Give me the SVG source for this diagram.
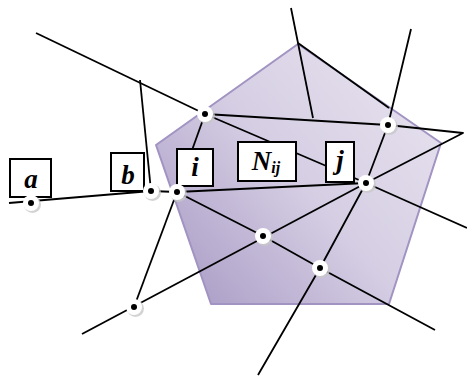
<svg xmlns="http://www.w3.org/2000/svg" width="467" height="376" viewBox="0 0 467 376">
<defs>
<linearGradient id="pg" x1="0" y1="1" x2="1" y2="0.2">
<stop offset="0" stop-color="#a596c2"/>
<stop offset="0.55" stop-color="#d6cfe4"/>
<stop offset="1" stop-color="#e6e1ee"/>
</linearGradient>
<g id="dot">
<circle cx="1.5" cy="1.5" r="8.5" fill="#c8c8c8" opacity="0.8"/>
<circle cx="0" cy="0" r="8" fill="#ffffff"/>
<circle cx="0" cy="0" r="3" fill="#000000"/>
</g>
</defs>
<style>
.ln{stroke:#000;stroke-width:1.8;fill:none;stroke-linejoin:round}
.box{fill:#fff;stroke:#000;stroke-width:2}
.lbl{font-family:"Liberation Serif","Times New Roman",serif;font-weight:bold;font-style:italic;font-size:27px;fill:#000;text-anchor:middle}
</style>
<rect width="467" height="376" fill="#fff"/>
<g id="pentagon">
<polygon points="298,44 441,143 389,304 211,304 156,145" fill="url(#pg)" stroke="#a193c2" stroke-width="2" stroke-linejoin="round"/>
</g>
<g id="connectors">
<line class="ln" x1="36" y1="33" x2="205" y2="114"/>
<line class="ln" x1="140" y1="80" x2="151" y2="191"/>
<line class="ln" x1="9" y1="203" x2="151" y2="191"/>
<line class="ln" x1="151" y1="191" x2="177" y2="192"/>
<line class="ln" x1="177" y1="192" x2="366" y2="183"/>
<line class="ln" x1="205" y1="114" x2="177" y2="192"/>
<polyline class="ln" points="205,114 388,125 463,133 366,183"/>
<line class="ln" x1="205" y1="114" x2="366" y2="183"/>
<line class="ln" x1="291" y1="8" x2="313" y2="118"/>
<line class="ln" x1="298" y1="43" x2="389" y2="108"/>
<polyline class="ln" points="411,29 388,125 366,183 320,268 258,375"/>
<line class="ln" x1="366" y1="183" x2="467" y2="228"/>
<line class="ln" x1="366" y1="183" x2="82" y2="334"/>
<polyline class="ln" points="177,192 263,236 320,268 435,330"/>
<line class="ln" x1="177" y1="192" x2="134" y2="307"/>
</g>
<g id="node-a"><rect class="box" x="10" y="159" width="41" height="38"/><text class="lbl" x="31" y="188">a</text></g>
<g id="node-b"><rect class="box" x="111" y="153" width="33" height="38"/><text class="lbl" x="128" y="184">b</text></g>
<g id="node-i"><rect class="box" x="177" y="149" width="36" height="37"/><text class="lbl" x="195" y="176">i</text></g>
<g id="node-Nij"><rect class="box" x="238" y="142" width="58" height="39"/><text class="lbl" x="266" y="170">N<tspan font-size="16" dy="3">ij</tspan></text></g>
<g id="node-j"><rect class="box" x="326" y="142" width="28" height="40"/><text class="lbl" x="340" y="169">j</text></g>
<g id="points">
<use href="#dot" x="205" y="114"/>
<use href="#dot" x="388" y="125"/>
<use href="#dot" x="366" y="183"/>
<use href="#dot" x="177" y="192"/>
<use href="#dot" x="151" y="191"/>
<use href="#dot" x="31" y="203"/>
<use href="#dot" x="263" y="236"/>
<use href="#dot" x="320" y="268"/>
<use href="#dot" x="134" y="307"/>
</g>
</svg>
